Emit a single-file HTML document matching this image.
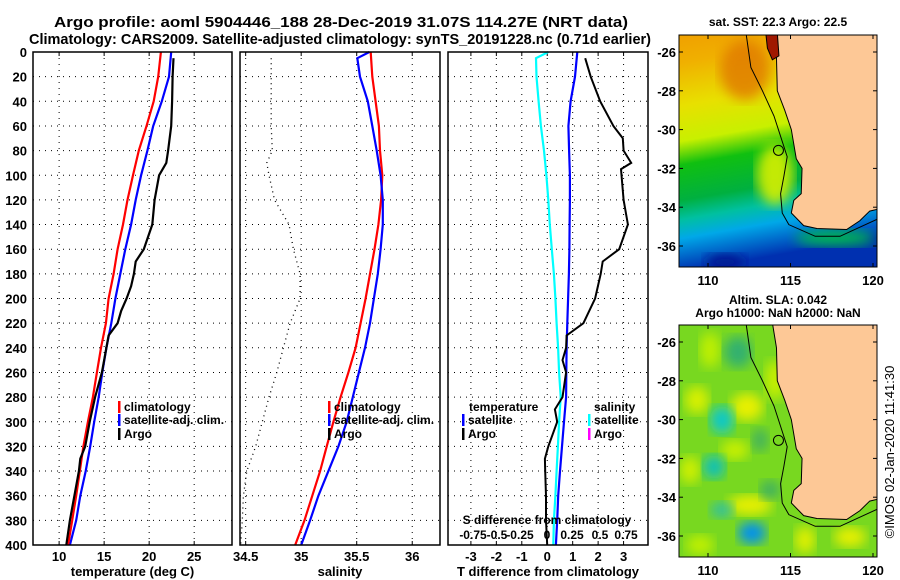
<!DOCTYPE html>
<html><head><meta charset="utf-8">
<style>
html,body{margin:0;padding:0;background:#fff;}
svg{display:block;font-family:"Liberation Sans",Arial,sans-serif;font-weight:bold;}
</style></head>
<body>
<svg id="fig" width="900" height="580" viewBox="0 0 900 580" xmlns="http://www.w3.org/2000/svg">
<defs>
<linearGradient id="sst" x1="0" y1="0" x2="0.15" y2="1">
<stop offset="0" stop-color="#f0a000"/><stop offset="0.12" stop-color="#f0b000"/>
<stop offset="0.3" stop-color="#e8e000"/><stop offset="0.45" stop-color="#c8f000"/>
<stop offset="0.55" stop-color="#10c010"/><stop offset="0.7" stop-color="#00b040"/>
<stop offset="0.78" stop-color="#00c0a0"/><stop offset="0.86" stop-color="#00a8e8"/>
<stop offset="1" stop-color="#0030b0"/></linearGradient>
<filter id="blur"><feGaussianBlur stdDeviation="6"/></filter>
<clipPath id="c1"><rect x="679" y="35" width="198" height="232"/></clipPath>
<clipPath id="c2"><rect x="679" y="325" width="198" height="232"/></clipPath>
</defs>
<g font-size="15" text-anchor="middle">
<text x="341" y="27" textLength="574" lengthAdjust="spacingAndGlyphs">Argo profile: aoml 5904446_188 28-Dec-2019 31.07S 114.27E (NRT data)</text>
<text x="340" y="44" textLength="622" lengthAdjust="spacingAndGlyphs">Climatology: CARS2009. Satellite-adjusted climatology: synTS_20191228.nc (0.71d earlier)</text>
</g>
<g id="panels"></g>
<g id="maps"></g>
</svg>
<script>
// ---- data ----
const depthGrid=[0,20,40,60,80,100,120,140,160,180,200,220,240,260,280,300,320,340,360,380,400];
const tempClim=[21.3,21.0,20.5,19.7,18.85,18.2,17.6,17.1,16.5,16.05,15.5,15.2,14.65,14.2,13.75,13.2,12.7,12.3,11.9,11.45,11.0];
const tempSat=[22.45,22.2,21.4,20.45,19.8,19.1,18.5,18.0,17.35,16.8,16.25,15.8,15.25,14.8,14.4,13.9,13.45,12.95,12.35,11.9,11.2];
const argoDepth=[5,20,40,60,80,90,100,120,140,160,170,180,190,200,210,220,230,240,260,280,300,320,330,340,360,380,400];
const argoTemp=[22.7,22.6,22.55,22.45,22.1,21.9,21.1,20.6,20.35,19.4,18.5,18.3,18.0,17.5,16.9,16.5,15.5,15.25,14.75,14.0,13.4,12.9,12.35,12.2,11.7,11.2,10.8];
const salClim=[35.626,35.64,35.67,35.70,35.71,35.73,35.72,35.695,35.66,35.62,35.58,35.535,35.49,35.425,35.355,35.29,35.23,35.17,35.10,35.03,34.946];
const satSalDepth=[0,5,20,40,60,80,100,120,140,160,180,200,220,240,260,280,300,320,340,360,380,400];
const salSat=[35.614,35.505,35.53,35.60,35.64,35.68,35.715,35.735,35.735,35.715,35.69,35.655,35.62,35.575,35.52,35.465,35.41,35.335,35.245,35.155,35.08,35.0];
const argoSalDepth=[5,20,40,60,80,90,100,120,140,160,180,200,220,240,260,280,300,320,340,360,380,400];
const argoSal=[34.73,34.73,34.73,34.73,34.74,34.69,34.71,34.76,34.89,34.93,34.99,34.99,34.90,34.84,34.78,34.71,34.65,34.59,34.51,34.48,34.47,34.455];
const tDiffSat=[1.18,1.09,0.92,0.83,0.86,0.89,0.89,0.88,0.87,0.85,0.82,0.79,0.76,0.75,0.74,0.66,0.58,0.5,0.43,0.39,0.34];
const argoDiffDepth=[5,20,40,60,70,80,90,95,120,140,160,170,180,200,220,230,240,250,260,280,290,300,320,330,340,360,380,400];
const tDiffArgo=[1.49,1.71,2.08,2.6,2.97,3.0,3.3,2.9,3.0,3.17,2.83,2.18,2.1,1.88,1.42,0.76,0.74,0.6,0.74,0.6,0.3,0.39,0.04,-0.09,-0.08,-0.05,-0.05,0];
const sDiffDepth=[0,5,20,40,60,80,100,120,140,160,180,200,220,240,260,280,300,320,340,360,380,400];
const sDiffSat=[0.01,-0.11,-0.105,-0.085,-0.062,-0.032,-0.008,0.01,0.025,0.045,0.065,0.08,0.092,0.107,0.117,0.132,0.117,0.105,0.092,0.08,0.065,0.06];
const depthTicks=[0,20,40,60,80,100,120,140,160,180,200,220,240,260,280,300,320,340,360,380,400];
const tempTicks=[10,15,20,25], salTicks=[34.5,35,35.5,36], tdTicks=[-3,-2,-1,0,1,2,3];
const sdTickLabels=["-0.75","-0.5","-0.25","0","0.25","0.5","0.75"];
const latTicks=[-26,-28,-30,-32,-34,-36], lonTicks=[110,115,120];

const NS="http://www.w3.org/2000/svg";
function mk(tag,attrs,parent,txt){const e=document.createElementNS(NS,tag);for(const k in attrs)e.setAttribute(k,attrs[k]);if(txt!==undefined)e.textContent=txt;parent.appendChild(e);return e;}
const Y0=52,Y1=545;
const yD=d=>Y0+(d/400)*(Y1-Y0);
const panels=document.getElementById('panels');
const P=[
 {x0:33,x1:232,vmin:7.1,vmax:29.2,ticks:tempTicks,title:"temperature (deg C)",name:"temperature-panel"},
 {x0:240,x1:440,vmin:34.449,vmax:36.25,ticks:salTicks,title:"salinity",name:"salinity-panel"},
 {x0:448,x1:648,vmin:-3.9,vmax:3.96,ticks:tdTicks,title:"T difference from climatology",name:"difference-panel"}];
P.forEach(p=>{p.sx=v=>p.x0+(v-p.vmin)/(p.vmax-p.vmin)*(p.x1-p.x0);});
P.forEach((p,i)=>{
 const g=mk('g',{},panels);
 
 
 depthTicks.forEach(d=>{if(d>0&&d<400)mk('line',{x1:p.x0,x2:p.x1,y1:yD(d),y2:yD(d),stroke:'#000','stroke-width':1,'stroke-dasharray':'1 5'},g);});
 p.ticks.forEach(t=>{const x=p.sx(t);
  if(x>p.x0+3)mk('line',{x1:x,x2:x,y1:Y0,y2:Y1,stroke:'#000','stroke-width':1,'stroke-dasharray':'1 5'},g);
  mk('line',{x1:x,x2:x,y1:Y0,y2:Y0+4,stroke:'#000'},g);mk('line',{x1:x,x2:x,y1:Y1,y2:Y1-4,stroke:'#000'},g);
  const lbl=mk('text',{x:x,y:561,'font-size':13,'text-anchor':'middle'},g,String(t));
  
  });
 const tt=mk('text',{x:(p.x0+p.x1)/2,y:576,'font-size':13,'text-anchor':'middle'},g,p.title);
 
 
});
depthTicks.forEach(d=>{const t=mk('text',{x:27,y:yD(d)+5,'font-size':13,'text-anchor':'end'},panels,String(d));
 
 });
function line(p,ds,vs,col,w,name,dash){
 const pts=ds.map((d,i)=>p.sx(vs[i]).toFixed(1)+','+yD(d).toFixed(1)).join(' ');
 const e=mk('polyline',{points:pts,fill:'none',stroke:col,'stroke-width':w},panels);
 if(dash)e.setAttribute('stroke-dasharray',dash);
 
 }
line(P[0],depthGrid,tempSat,'#0000ff',2.2,'temp-satellite-line');
line(P[0],depthGrid,tempClim,'#ff0000',2.2,'temp-climatology-line');
line(P[0],argoDepth,argoTemp,'#000',2.2,'temp-argo-line');
line(P[1],depthGrid,salClim,'#ff0000',2.2,'sal-climatology-line');
line(P[1],satSalDepth,salSat,'#0000ff',2.2,'sal-satellite-line');
line(P[1],argoSalDepth,argoSal,'#000',1.3,'sal-argo-line','1 4');
line(P[2],depthGrid,tDiffSat,'#0000ff',2.2,'tdiff-satellite-line');
line(P[2],sDiffDepth,sDiffSat.map(v=>v*4),'#00ffff',2.2,'sdiff-satellite-line');
line(P[2],argoDiffDepth,tDiffArgo,'#000',2,'tdiff-argo-line');
P.forEach(p=>{const r=mk('rect',{x:p.x0,y:Y0,width:p.x1-p.x0,height:Y1-Y0,fill:'none',stroke:'#000','stroke-width':1.5},panels);
 
 });
// S diff secondary axis labels
const sdl=mk('text',{x:547,y:524,'font-size':12,'text-anchor':'middle'},panels,'S difference from climatology');


sdTickLabels.forEach((s,i)=>{const t=mk('text',{x:[473,497,520,547,572,600,626][i],y:539,'font-size':12,'text-anchor':'middle'},panels,s);
 
 });
// legends
function legend(x,y,col,label,name){const g=mk('g',{},panels);
 
 
 mk('rect',{x:x,y:y-10,width:2.5,height:12,fill:col},g);mk('text',{x:x+6,y:y,'font-size':12},g,label);}
legend(118,411,'#ff0000','climatology','legend-climatology');
legend(118,424,'#0000ff','satellite-adj. clim.','legend-satellite-adj');
legend(118,438,'#000','Argo','legend-argo');
legend(328,411,'#ff0000','climatology','legend-sal-climatology');
legend(328,424,'#0000ff','satellite-adj. clim.','legend-sal-satellite-adj');
legend(328,438,'#000','Argo','legend-sal-argo');
mk('text',{x:469,y:411,'font-size':12},panels,'temperature');
legend(462,424,'#0000ff','satellite','legend-t-satellite');
legend(462,438,'#000','Argo','legend-t-argo');
mk('text',{x:594,y:411,'font-size':12},panels,'salinity');
legend(588,424,'#00ffff','satellite','legend-s-satellite');
legend(588,438,'#ff00ff','Argo','legend-s-argo');

// ---- maps ----
const maps=document.getElementById('maps');
const mx=lon=>708+(lon-110)*16.5;
function drawMap(off,kind,title){
 const g=mk('g',{},maps);
 
 
 const my=lat=>52+off+(-26-lat)*19.4;
 const cg=mk('g',{'clip-path':off?'url(#c2)':'url(#c1)'},g);
 if(kind==='sst'){
  mk('rect',{x:679,y:35,width:198,height:232,fill:'url(#sst)'},cg);
  mk('ellipse',{cx:745,cy:70,rx:25,ry:30,fill:'#e07800',filter:'url(#blur)',opacity:0.8},cg);
  mk('ellipse',{cx:775,cy:175,rx:18,ry:30,fill:'#d8f000',filter:'url(#blur)',opacity:0.9},cg);
  mk('ellipse',{cx:835,cy:238,rx:40,ry:8,fill:'#00b850',filter:'url(#blur)'},cg);
  mk('ellipse',{cx:725,cy:262,rx:20,ry:8,fill:'#001890',filter:'url(#blur)'},cg);
 } else {
  mk('rect',{x:679,y:325,width:198,height:232,fill:'#78d820'},cg);
  [[747,407,16,14,'#e8f000'],[697,400,12,14,'#d8f000'],[750,505,22,10,'#e8f000'],[850,537,16,10,'#e8f000'],[805,540,10,14,'#e0f000'],[775,380,10,20,'#c8f000'],[710,350,10,18,'#c0f000'],[690,470,10,14,'#d0f000'],[735,450,14,10,'#c8f000'],[700,545,14,10,'#c0f000'],[738,352,14,16,'#30b070'],[722,420,12,14,'#10c8c8'],[714,467,11,12,'#10c0b8'],[752,533,14,11,'#0090f0'],[722,510,12,8,'#30c0a0'],[770,490,10,10,'#40b060'],[760,440,8,12,'#40b060']].forEach(b=>{
   mk('ellipse',{cx:b[0],cy:b[1],rx:b[2],ry:b[3],fill:b[4],filter:'url(#blur)'},cg);});
 }
 const land=[[113.9,-25],[114.15,-26.3],[114.2,-28],[114.65,-29],[115.05,-30],[115.35,-31.5],[115.7,-32],[115.65,-33.3],[115.2,-33.65],[115.05,-34.3],[115.8,-34.95],[116.6,-35.1],[118.4,-35.15],[119.2,-34.7],[119.8,-34.2],[120.3,-34.1],[120.3,-25]];
 const lp=mk('polygon',{points:land.map(p=>mx(p[0])+','+my(p[1])).join(' '),fill:'#fdc896',stroke:'#000','stroke-width':1},cg);
 
 
 if(kind==='sst'){mk('polygon',{points:[[113.5,-25],[114.2,-25],[114.3,-26.2],[113.9,-26.4],[113.6,-25.8]].map(p=>mx(p[0])+','+my(p[1])).join(' '),fill:'#a01800',stroke:'#000'},cg);}
 const cont=[[112.3,-25],[112.6,-26.8],[113.3,-28],[114.0,-29.3],[114.8,-31.4],[114.6,-32.4],[114.4,-33.3],[114.5,-34.3],[114.9,-34.9],[116.5,-35.5],[118,-35.5],[120.3,-34.6]];
 mk('polyline',{points:cont.map(p=>mx(p[0])+','+my(p[1])).join(' '),fill:'none',stroke:'#000','stroke-width':1},cg);
 const c=mk('circle',{cx:mx(114.27),cy:my(-31.07),r:5,fill:'none',stroke:'#000','stroke-width':1},g);
 
 
 mk('rect',{x:679,y:35+off,width:198,height:232,fill:'none',stroke:'#000','stroke-width':1},g);
 latTicks.forEach(l=>{const y=my(l);mk('line',{x1:679,x2:683,y1:y,y2:y,stroke:'#000'},g);mk('line',{x1:877,x2:873,y1:y,y2:y,stroke:'#000'},g);
  const t=mk('text',{x:676,y:y+5,'font-size':13,'text-anchor':'end'},g,String(l));
  
  });
 lonTicks.forEach(l=>{const x=mx(l);mk('line',{x1:x,x2:x,y1:35+off,y2:39+off,stroke:'#000'},g);mk('line',{x1:x,x2:x,y1:267+off,y2:263+off,stroke:'#000'},g);
  const t=mk('text',{x:x,y:285+off,'font-size':13,'text-anchor':'middle'},g,String(l));
  
  });
 title.forEach((s,i)=>{const t=mk('text',{x:778,y:(off?off+14:26)+i*13,'font-size':12,'text-anchor':'middle'},g,s);
  
  });
}
drawMap(0,'sst',['sat. SST: 22.3 Argo: 22.5']);
drawMap(290,'sla',['Altim. SLA: 0.042','Argo h1000: NaN h2000: NaN']);
const cr=mk('text',{x:0,y:0,'font-size':13,'font-weight':'normal','text-anchor':'middle',transform:'translate(894,452) rotate(-90)'},maps,'©IMOS 02-Jan-2020 11:41:30');


</script>
</body></html>
